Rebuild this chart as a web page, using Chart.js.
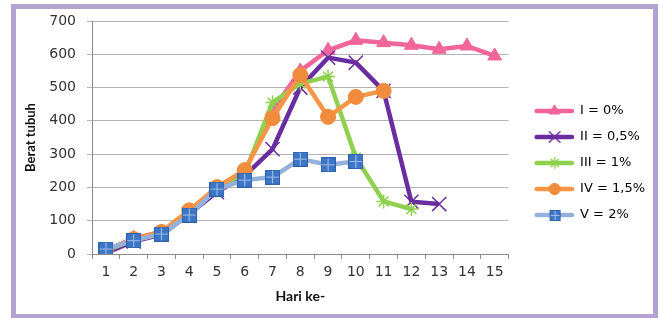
<!DOCTYPE html>
<html lang="id">
<head>
<meta charset="UTF-8">
<title>Berat tubuh</title>
<script src="https://cdn.jsdelivr.net/npm/chart.js"></script>
<style>
  body { margin: 0; background: #fff; }
  #frame { position: absolute; left: 11px; top: 4px; width: 637px; height: 305px; border: 5px solid #b3a3d0; }
  #chart { position: absolute; left: 0; top: 0; }
</style>
</head>
<body>
<div id="frame"></div>
<canvas id="chart" width="660" height="318"></canvas>
<script>
    const days = ["1", "2", "3", "4", "5", "6", "7", "8", "9", "10", "11", "12", "13", "14", "15"];
    const seriesNames = ["I = 0%", "II = 0,5%", "III = 1%", "IV = 1,5%", "V = 2%"];

    const beratI   = [10, 47, 66, 130, 196, 246, 432, 550, 612, 642, 635, 627, 615, 625, 595];
    const beratII  = [3, 38, 58, 120, 186, 235, 315, 500, 590, 575, 490, 157, 150, null, null];
    const beratIII = [10, 42, 62, 126, 200, 242, 455, 512, 533, 290, 158, 135, null, null, null];
    const beratIV  = [12, 45, 66, 131, 201, 252, 408, 538, 412, 472, 490, null, null, null, null];
    const beratV   = [15, 40, 60, 117, 195, 222, 231, 285, 268, 278, null, null, null, null, null];

    const yTicks = [0, 100, 200, 300, 400, 500, 600, 700];

    Chart.defaults.font.family = "'DejaVu Sans', sans-serif";
    Chart.defaults.color = "#333";

    // blue square marker with light cross, like the excel one
    function squareMarker(size) {
        const c = document.createElement("canvas");
        c.width = size; c.height = size;
        const g = c.getContext("2d");
        g.fillStyle = "#3d76c6";
        g.fillRect(0, 0, size, size);
        g.strokeStyle = "#9dbbe6";
        g.lineWidth = 1.2;
        g.beginPath();
        g.moveTo(size / 2, 1); g.lineTo(size / 2, size - 1);
        g.moveTo(1, size / 2); g.lineTo(size - 1, size / 2);
        g.stroke();
        g.strokeStyle = "#2f62a8";
        g.lineWidth = 1;
        g.strokeRect(0.5, 0.5, size - 1, size - 1);
        return c;
    }

    const styles = [
        { line: "#f2659a", fill: "#f2659a", point: "triangle", radius: 8, bw: 1 },
        { line: "#6a2d9f", fill: "#6a2d9f", point: "crossRot", radius: 10, bw: 1.5 },
        { line: "#8fd14f", fill: "#8fd14f", point: "star", radius: 7, bw: 1.5 },
        { line: "#f79646", fill: "#f08c3c", point: "circle", radius: 7.5, bw: 1 },
        { line: "#93b1da", fill: "#3d76c6", point: squareMarker(15), radius: 7, bw: 1 }
    ];

    // legend icon: line with marker in the middle (left part kept empty as gap)
    function legendIcon(s) {
        const c = document.createElement("canvas");
        c.width = 52; c.height = 16;
        const g = c.getContext("2d");
        g.strokeStyle = s.line;
        g.lineWidth = 4.5;
        g.lineCap = "round";
        g.beginPath();
        g.moveTo(15, 8); g.lineTo(50, 8);
        g.stroke();
        if (typeof s.point === "string") {
            g.fillStyle = s.fill;
            g.strokeStyle = s.fill;
            g.lineWidth = s.bw;
            Chart.helpers.drawPoint(g, { pointStyle: s.point, radius: s.radius * 0.75, rotation: 0, borderWidth: s.bw }, 33, 8);
        } else {
            g.drawImage(squareMarker(11), 28, 3);
        }
        return c;
    }

    const values = [beratI, beratII, beratIII, beratIV, beratV];
    const datasets = values.map((v, i) => ({
        label: seriesNames[i],
        data: v,
        borderColor: styles[i].line,
        backgroundColor: styles[i].fill,
        pointBackgroundColor: styles[i].fill,
        pointBorderColor: styles[i].fill,
        pointBorderWidth: styles[i].bw,
        pointStyle: styles[i].point,
        pointRadius: styles[i].radius,
        borderWidth: 4.5,
        tension: 0,
        order: 5 - i
    }));

    new Chart(document.getElementById("chart"), {
        type: "line",
        data: { labels: days, datasets: datasets },
        options: {
            responsive: false,
            animation: false,
            devicePixelRatio: 1,
            layout: { padding: { top: 21, left: 0, right: 5, bottom: 13 } },
            plugins: {
                tooltip: { enabled: false },
                legend: {
                    position: "right",
                    labels: {
                        usePointStyle: true,
                        pointStyleWidth: 52,
                        boxHeight: 13,
                        padding: 13,
                        color: "#222",
                        font: { size: 13 },
                        generateLabels: () => seriesNames.map((n, i) => ({
                            text: n,
                            pointStyle: legendIcon(styles[i]),
                            fillStyle: styles[i].fill,
                            strokeStyle: styles[i].line,
                            lineWidth: 0,
                            datasetIndex: i
                        }))
                    }
                }
            },
            scales: {
                x: {
                    offset: true,
                    afterFit: (s) => { s.height = 51; },
                    grid: { offset: true, drawOnChartArea: false, tickLength: 5, color: "#8c8c8c" },
                    border: { color: "#8c8c8c" },
                    ticks: { padding: 5, font: { size: 14 }, color: "#333" },
                    title: { display: true, text: "Hari ke-", font: { family: "Lato", weight: "bold", size: 14 }, color: "#111", padding: { top: 0, bottom: 0 } }
                },
                y: {
                    min: 0, max: 700,
                    afterFit: (s) => { s.width = 92; },
                    afterBuildTicks: (s) => { s.ticks = yTicks.map(v => ({ value: v })); },
                    grid: { tickLength: 5, color: "#b4b4b4" },
                    border: { color: "#8c8c8c" },
                    ticks: { padding: 11, font: { size: 14 }, color: "#333" },
                    title: { display: true, text: "Berat tubuh", font: { family: "Lato", weight: "bold", size: 13 }, color: "#111", padding: { top: 23, bottom: 0 } }
                }
            }
        }
    });
</script>
</body>
</html>
